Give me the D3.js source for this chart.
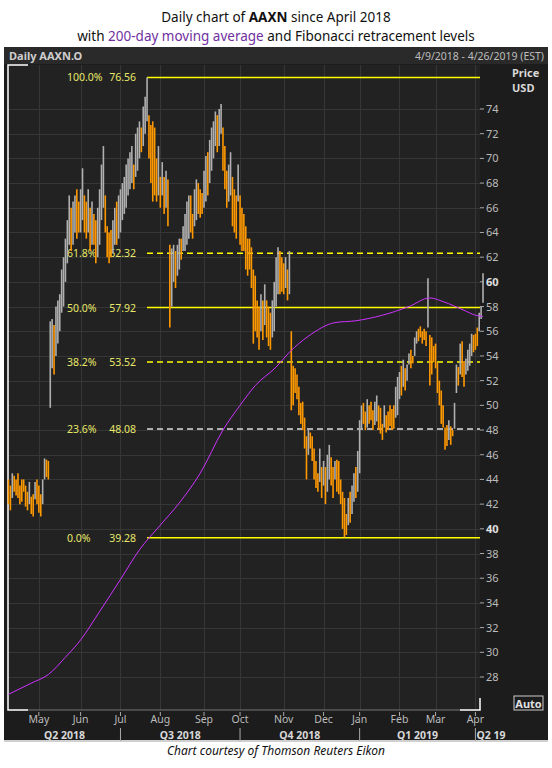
<!DOCTYPE html>
<html>
<head>
<meta charset="utf-8">
<script src="https://cdn.jsdelivr.net/npm/d3@7"></script>
<style>
  body { margin: 0; background: #fff; }
  svg { display: block; font-family: "Noto Sans", "DejaVu Sans", sans-serif; }
</style>
</head>
<body>
<div id="chart"></div>
<script>
// daily [low, high] bars, one per trading day from 4/9/2018
const bars = [
  // Apr 2018
  [42,44],[41.5,43.5],[42.5,44.5],[43,44.3],[42.7,44],[42.5,44.5],[42,43.5],[42.2,44],[43,44],[41.8,43.5],[41.5,43],[42,43.8],[41.2,42.6],[41,42.8],[42.4,43.8],[42,44],
  // May
  [41.3,43.5],[41,42.8],[42,44],[44,45.7],[44.2,45.6],[44,45.5],[49.8,56.8],[53,57],[52.5,56.5],[54,58],[55,58.5],[56,59],[57.5,61],[58,62],[60,63.5],[61.5,65],[63,67],[62.5,66],[63,66.5],[64,67],[63.5,67.5],[64,66.5],
  // Jun
  [64,67.5],[65,69.2],[64,67],[63.5,66.5],[64,67.5],[62.5,66],[63,66.5],[63,65.5],[61.5,65],[62,66],[63,67.5],[65,69.5],[66,71],[64,67],[62,64.5],[61.5,64],[62,64.2],[62.3,65],[63,66],[63,66.5],[63.5,67],
  // Jul
  [64,67.5],[65,68],[65.5,68.5],[66,69.5],[67,70],[67.5,70.5],[68,71],[67.5,69.5],[68.5,72],[69,72.5],[70,73],[70.5,72.5],[71,74.2],[72,75],[73,76.56],[70,73.5],[68,72.7],[66.5,73],[67,72.5],[66.5,70],[67,71],
  // Aug
  [66,68.5],[67,69.7],[65.5,68.5],[66,69],[64.5,68.3],[56.3,63],[58,62.7],[60,63],[59.5,62.5],[60.5,63],[61,63.5],[61.8,63.5],[62.5,64.5],[62.5,65.5],[63,66.5],[63.5,67],[64,67],[63.5,65.5],[64.5,67.5],[65,68.3],[65.5,68],[65.2,67.5],[65.5,67.2],
  // Sep
  [66,69],[66.5,70.2],[67,70.5],[68,71.5],[69,72.5],[70,73],[71,73.8],[70.5,73.5],[71,74],[72,74.4],[69,72.5],[67.5,71],[66,69],[66.5,69.5],[67,70.5],[64.5,68.5],[64,67.5],[63.5,67],[66.5,69.5],
  // Oct
  [63,67],[62.5,66],[62.5,65.5],[61,64.5],[60.5,63.5],[61,63.5],[59.5,62.8],[55,61],[56,60.5],[55.5,58.5],[54.5,58],[56,59],[55.3,58.5],[56.5,59.8],[55.5,58.5],[54.8,58],[54.5,57.5],[55.5,58.5],[56,60],[58,62],[59,62.8],[59,62.5],[59.2,62],
  // Nov
  [59,61.5],[59.5,62],[58.5,61],[59,62.5],[49.6,56],[50,53.2],[51,53],[50.5,52.5],[49.2,51.5],[48.5,50.2],[48,50.3],[46.5,49],[44,47.5],[46,48],[46.5,47.8],[45.5,47.5],[44,46.5],[43.3,45.5],[43,44.5],[43.8,46.5],[42.5,45],
  // Dec
  [43.5,45.5],[42,45],[43,46],[44,46.8],[43.5,45.8],[42.5,45],[44,45.5],[43,45.6],[42.8,45.5],[42,44],[40,43],[39.3,42.5],[39.5,41.2],[40.3,42.5],[40.5,43],[41.2,43.5],[42.2,44.5],[42.5,45],[43,46.3],
  // Jan 2019
  [44.5,48.8],[48,50],[48.5,50.2],[48,49.5],[48.2,50.5],[48.5,50],[48.8,50.3],[48,49.6],[48.4,50.3],[48.7,50.8],[48,50],[47.7,49.8],[47.2,48.5],[48.2,50],[47.8,49.2],[48,49.5],[48.3,50],[48,49.7],[48.1,50],[49,51.5],[49.2,52.3],
  // Feb
  [50.5,52.7],[50.8,53.2],[51.5,53.7],[51.2,53],[52,53.3],[53.3,54.2],[53,54.5],[53.4,54],[54,55.5],[55,56],[55.2,56.2],[55.5,56.4],[55,56],[55.3,56.2],[54.8,56],[56.3,60.3],[51.6,55.7],[52.5,55.5],[53.5,54.8],
  // Mar
  [53,55],[51,53.5],[50,52],[48.5,51.2],[48.2,50],[46.4,48.2],[46.7,48.4],[47.2,48.8],[46.8,48.3],[47.5,48],[48.1,50.2],[51,53.3],[51.6,53.1],[52.5,55],[52.3,55.2],[51.5,53.6],[52.5,53.8],[52.8,54.5],[53.2,55],[54,55.8],[54.3,55.7],
  // Apr
  [54.5,55.8],[54.8,56.3],[56,57.5],[57,58],[58.3,60.7],
];

// 200-day moving average read at [trading-day index, value]
const movingAverage = [
  [0,26.6],[12,27.5],[21,28.2],[30,29.6],[38,31],[48,33.3],[59,35.9],[69,38.3],[80,40.3],[90,42.1],[101,44.5],
  [113,48.0],[122,50.0],[130,51.6],[141,53.1],[148,54.3],[158,55.6],[172,56.7],[183,56.85],[197,57.3],
  [211,58.0],[222,58.7],[229,58.4],[240,57.7],[246,57.3],[250,57.2],
];

const fibLevels = [
  { pct: '100.0%', value: 76.56, dash: null, color: '#ffff00' },
  { pct: '61.8%', value: 62.32, dash: '6,4', color: '#ffff00' },
  { pct: '50.0%', value: 57.92, dash: null, color: '#ffff00' },
  { pct: '38.2%', value: 53.52, dash: '6,4', color: '#ffff00' },
  { pct: '23.6%', value: 48.08, dash: '6,4', color: '#dddddd' },
  { pct: '0.0%', value: 39.28, dash: null, color: '#ffff00' },
];

const priceTicks = d3.range(28, 75, 2);
const quarters = [
  { label: 'Q2 2018', from: '2018-04-09', to: '2018-07-01' },
  { label: 'Q3 2018', from: '2018-07-01', to: '2018-10-01' },
  { label: 'Q4 2018', from: '2018-10-01', to: '2019-01-01' },
  { label: 'Q1 2019', from: '2019-01-01', to: '2019-04-01' },
  { label: 'Q2 19', from: '2019-04-01', to: null },
];
const holidays = ['2018-05-28', '2018-07-04', '2018-09-03', '2018-11-22', '2018-12-05',
  '2018-12-25', '2019-01-01', '2019-01-21', '2019-02-18'];

const W = 552, H = 768;
const plot = { left: 8, right: 480, top: 65, bottom: 710 };
const fmt = d3.timeFormat('%Y-%m-%d');

const days = d3.timeDay.range(new Date(2018, 3, 9), new Date(2019, 3, 27))
  .filter((d) => d.getDay() % 6 !== 0 && !holidays.includes(fmt(d)));

const x = d3.scaleLinear().domain([0, 250]).range([plot.left + 0.5, 483]);
const y = d3.scaleLinear().domain([28, 74]).range([677, 109]);

const svg = d3.select('#chart').append('svg').attr('width', W).attr('height', H);

// titles
const t1 = svg.append('text').attr('x', W / 2).attr('y', 22).attr('text-anchor', 'middle')
  .attr('font-size', 13.5).attr('fill', '#111');
t1.append('tspan').text('Daily chart of ');
t1.append('tspan').attr('font-weight', 'bold').text('AAXN');
t1.append('tspan').text(' since April 2018');
const t2 = svg.append('text').attr('x', W / 2).attr('y', 41).attr('text-anchor', 'middle')
  .attr('font-size', 13.5).attr('fill', '#111');
t2.append('tspan').text('with ');
t2.append('tspan').attr('fill', '#7030a0').text('200-day moving average');
t2.append('tspan').text(' and Fibonacci retracement levels');

// panel
svg.append('rect').attr('x', 4).attr('y', 47).attr('width', 544).attr('height', 694).attr('fill', '#1c1c1c');
svg.append('rect').attr('x', 4).attr('y', 47).attr('width', 544).attr('height', 17).attr('fill', '#2a2a2a');
svg.append('text').attr('x', 9).attr('y', 60).attr('font-size', 11).attr('font-weight', 'bold')
  .attr('fill', '#cfcfcf').text('Daily AAXN.O');
svg.append('text').attr('x', 544).attr('y', 60).attr('font-size', 10.5).attr('text-anchor', 'end')
  .attr('fill', '#bdbdbd').text('4/9/2018 - 4/26/2019 (EST)');
svg.append('rect').attr('x', plot.left).attr('y', plot.top).attr('width', plot.right - plot.left)
  .attr('height', plot.bottom - plot.top).attr('fill', '#222');
svg.append('line').attr('x1', 4).attr('x2', 548).attr('y1', 741).attr('y2', 741)
  .attr('stroke', '#d0d0d0').attr('stroke-width', 2);

// month ticks
const monthStarts = [];
days.forEach((d, i) => {
  if (i > 0 && d.getMonth() !== days[i - 1].getMonth()) monthStarts.push({ d, i });
});

const grid = svg.append('g').attr('stroke', '#363636').attr('stroke-width', 1);
grid.selectAll('.hg').data(priceTicks).join('line')
  .attr('x1', plot.left).attr('x2', plot.right)
  .attr('y1', (d) => Math.round(y(d)) + 0.5).attr('y2', (d) => Math.round(y(d)) + 0.5);
grid.selectAll('.vg').data(monthStarts).join('line')
  .attr('x1', (d) => Math.round(x(d.i)) + 0.5).attr('x2', (d) => Math.round(x(d.i)) + 0.5)
  .attr('y1', plot.top).attr('y2', plot.bottom);

// frame corners in white
const frame = svg.append('g').attr('stroke', '#fff').attr('stroke-width', 1.5).attr('fill', 'none');
frame.append('path').attr('d', `M28,${plot.top}H${plot.left}V${plot.bottom}H28`);
frame.append('path').attr('d', `M460,${plot.bottom}H${plot.right}V${plot.bottom - 12}`);
svg.append('line').attr('x1', 28).attr('x2', 460).attr('y1', plot.bottom).attr('y2', plot.bottom)
  .attr('stroke', '#777');

// fib levels
const fib = svg.append('g');
fib.selectAll('line').data(fibLevels).join('line')
  .attr('x1', 147).attr('x2', plot.right)
  .attr('y1', (d) => y(d.value)).attr('y2', (d) => y(d.value))
  .attr('stroke', (d) => d.color).attr('stroke-width', 1.5)
  .attr('stroke-dasharray', (d) => d.dash);
fib.selectAll('.pct').data(fibLevels).join('text')
  .attr('x', 67).attr('y', (d) => y(d.value) + 4).attr('font-size', 10.5).attr('fill', '#e8e86a')
  .text((d) => d.pct);
fib.selectAll('.val').data(fibLevels).join('text')
  .attr('x', 136).attr('y', (d) => y(d.value) + 4).attr('text-anchor', 'end')
  .attr('font-size', 10.5).attr('fill', '#e8e86a').text((d) => d.value.toFixed(2));

// price bars
svg.append('g').selectAll('line').data(bars).join('line')
  .attr('x1', (d, i) => x(i)).attr('x2', (d, i) => x(i))
  .attr('y1', (d) => y(d[0])).attr('y2', (d) => y(d[1]))
  .attr('stroke', (d, i) => (i > 0 && d[0] + d[1] > bars[i - 1][0] + bars[i - 1][1] + 0.8
    ? '#b0b0b0' : '#ff9900'))
  .attr('stroke-width', 1.6);

// moving average
svg.append('path').datum(movingAverage)
  .attr('d', d3.line().x((d) => x(d[0])).y((d) => y(d[1])).curve(d3.curveMonotoneX))
  .attr('fill', 'none').attr('stroke', '#cc33ff').attr('stroke-width', 1);

// right axis
const ra = svg.append('g');
ra.selectAll('line').data(priceTicks).join('line')
  .attr('x1', plot.right).attr('x2', plot.right + 4)
  .attr('y1', (d) => y(d)).attr('y2', (d) => y(d)).attr('stroke', '#aaa');
ra.selectAll('text').data(priceTicks).join('text')
  .attr('x', plot.right + 6).attr('y', (d) => y(d) + 4).attr('font-size', 11)
  .attr('font-weight', (d) => (d % 20 === 0 ? 'bold' : 'normal'))
  .attr('fill', (d) => (d % 20 === 0 ? '#e0e0e0' : '#bbbbbb')).text((d) => d);
ra.append('text').attr('x', 512).attr('y', 77).attr('font-size', 11).attr('font-weight', 'bold')
  .attr('fill', '#d8d8d8').text('Price');
ra.append('text').attr('x', 512).attr('y', 92).attr('font-size', 11).attr('font-weight', 'bold')
  .attr('fill', '#d8d8d8').text('USD');
ra.append('rect').attr('x', 514).attr('y', 696).attr('width', 29).attr('height', 14)
  .attr('fill', '#1c1c1c').attr('stroke', '#ccc');
ra.append('text').attr('x', 528.5).attr('y', 707.5).attr('text-anchor', 'middle').attr('font-size', 11)
  .attr('font-weight', 'bold').attr('fill', '#e0e0e0').text('Auto');

// bottom axis
const ba = svg.append('g');
ba.selectAll('line').data(monthStarts).join('line')
  .attr('x1', (d) => x(d.i)).attr('x2', (d) => x(d.i))
  .attr('y1', plot.bottom + 2).attr('y2', plot.bottom + 6).attr('stroke', '#aaa');
ba.selectAll('text').data(monthStarts).join('text')
  .attr('x', (d) => x(d.i)).attr('y', 723).attr('text-anchor', 'middle')
  .attr('font-size', 10.5).attr('fill', '#bbbbbb').text((d) => d3.timeFormat('%b')(d.d));

const idxOf = (s) => days.findIndex((d) => fmt(d) >= s);
ba.selectAll('.qsep').data(quarters.slice(1)).join('line')
  .attr('x1', (d) => x(idxOf(d.from))).attr('x2', (d) => x(idxOf(d.from)))
  .attr('y1', 728).attr('y2', 741).attr('stroke', '#aaa');
ba.selectAll('.ql').data(quarters).join('text')
  .attr('x', (d) => (d.to ? (x(idxOf(d.from)) + x(idxOf(d.to))) / 2 : x(idxOf(d.from)) + 1))
  .attr('y', 738.5).attr('text-anchor', (d) => (d.to ? 'middle' : 'start'))
  .attr('font-size', 10.5).attr('font-weight', 'bold').attr('fill', '#d8d8d8')
  .text((d) => d.label);

svg.append('text').attr('x', W / 2).attr('y', 755).attr('text-anchor', 'middle')
  .attr('font-size', 12).attr('font-style', 'italic').attr('fill', '#111')
  .text('Chart courtesy of Thomson Reuters Eikon');
</script>
</body>
</html>
